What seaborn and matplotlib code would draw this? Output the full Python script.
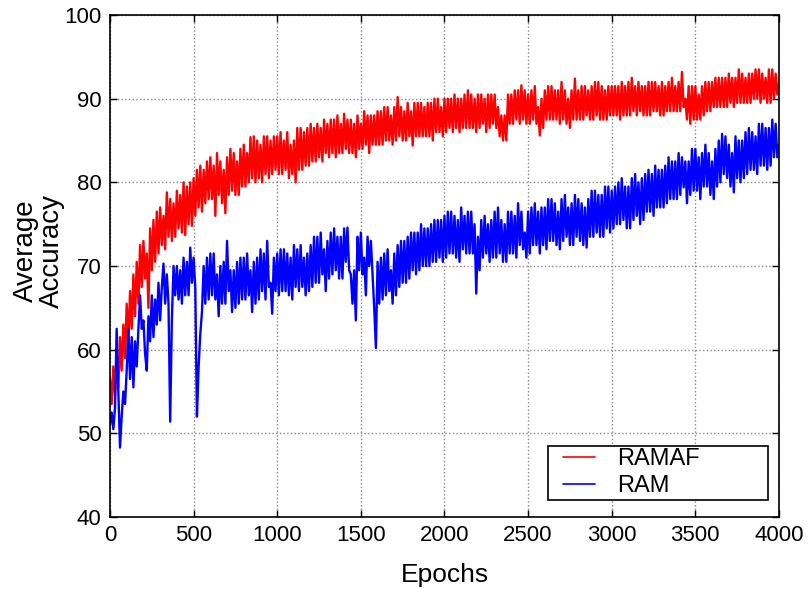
import numpy as np
import pandas as pd
import matplotlib
matplotlib.use("Agg")
import matplotlib.pyplot as plt
import seaborn as sns
from matplotlib.lines import Line2D
from matplotlib.legend_handler import HandlerLine2D

step = 10
ramaf = [
    56.5, 53.5, 58.0, 54.5, 59.5, 55.5, 61.5, 57.5, 63.0, 59.0,
    65.5, 60.5, 67.0, 62.5, 69.0, 64.0, 70.5, 65.5, 72.5, 67.5,
    73.0, 68.5, 71.5, 65.0, 74.5, 69.5, 75.5, 70.5, 76.5, 71.5,
    77.0, 72.5, 76.0, 72.0, 78.8, 73.5, 78.0, 73.0, 77.5, 73.5,
    79.0, 74.5, 78.5, 74.0, 80.0, 73.7, 79.5, 75.0, 80.0, 74.8,
    80.5, 76.0, 81.5, 77.0, 82.0, 76.5, 81.5, 77.5, 82.5, 78.0,
    83.0, 78.0, 82.0, 76.0, 83.5, 78.5, 82.5, 77.5, 81.5, 76.3,
    83.0, 78.5, 84.0, 79.0, 83.5, 78.5, 82.5, 78.5, 84.0, 79.5,
    84.5, 79.5, 83.5, 80.0, 85.4, 80.5, 85.5, 80.0, 85.0, 80.5,
    84.5, 80.0, 85.5, 81.0, 85.5, 80.5, 85.0, 81.0, 85.5, 81.5,
    85.5, 81.0, 86.0, 81.0, 85.0, 81.5, 86.0, 80.5, 84.5, 81.0,
    85.0, 80.0, 86.5, 81.5, 86.5, 81.5, 86.0, 82.0, 86.5, 82.0,
    87.0, 82.5, 86.5, 82.5, 87.0, 83.0, 86.5, 82.5, 87.5, 83.5,
    87.0, 83.0, 87.5, 83.5, 87.5, 83.0, 88.0, 83.5, 87.0, 83.5,
    88.2, 84.0, 87.5, 83.5, 87.5, 83.5, 87.0, 83.0, 88.0, 84.0,
    87.0, 84.0, 88.5, 84.5, 88.0, 83.5, 88.0, 84.5, 88.0, 84.5,
    88.5, 84.5, 88.5, 84.5, 89.0, 85.0, 89.0, 85.0, 88.0, 84.5,
    89.0, 85.0, 90.2, 85.5, 89.0, 85.0, 88.5, 85.0, 89.5, 85.5,
    88.5, 84.4, 89.5, 85.5, 89.5, 85.5, 89.5, 85.5, 89.0, 85.5,
    89.5, 85.5, 89.5, 85.0, 90.0, 86.0, 90.0, 86.0, 89.0, 85.5,
    90.0, 86.0, 90.0, 86.5, 90.0, 86.0, 90.5, 86.5, 90.0, 86.0,
    90.0, 86.5, 90.5, 86.5, 91.0, 86.5, 90.5, 86.5, 90.0, 86.0,
    90.5, 86.5, 90.5, 87.0, 90.0, 86.0, 90.5, 86.5, 90.5, 87.0,
    90.5, 86.5, 89.0, 85.5, 88.0, 85.0, 88.0, 85.0, 90.5, 87.0,
    90.5, 87.0, 91.0, 87.5, 91.0, 87.0, 91.6, 87.5, 91.0, 87.0,
    90.5, 87.0, 91.0, 87.5, 91.5, 87.0, 89.0, 85.6, 90.0, 86.5,
    91.0, 87.5, 91.5, 87.5, 91.5, 87.5, 91.0, 87.5, 91.0, 87.0,
    92.0, 87.5, 91.0, 87.0, 90.0, 86.5, 91.0, 87.5, 92.4, 87.5,
    91.0, 87.5, 91.5, 87.5, 91.5, 88.0, 91.0, 87.5, 91.5, 87.5,
    92.0, 88.0, 92.0, 87.5, 91.5, 87.5, 91.0, 87.5, 91.5, 88.0,
    91.5, 88.0, 91.5, 88.0, 91.5, 87.5, 92.0, 88.0, 91.5, 88.0,
    92.0, 88.0, 92.5, 88.5, 91.5, 88.0, 92.0, 88.5, 91.5, 88.0,
    91.5, 88.0, 92.0, 88.0, 92.0, 88.5, 92.0, 88.5, 91.5, 88.0,
    92.0, 88.0, 91.5, 88.5, 92.0, 88.5, 92.5, 88.5, 91.5, 88.5,
    92.0, 88.5, 93.2, 89.0, 90.0, 87.5, 91.5, 87.0, 91.5, 87.5,
    91.5, 87.5, 90.5, 87.5, 91.5, 88.0, 92.0, 88.5, 92.0, 88.5,
    92.0, 89.0, 92.5, 89.0, 92.5, 89.0, 92.5, 89.0, 92.5, 89.0,
    93.0, 89.5, 92.5, 89.0, 92.5, 89.5, 93.5, 89.5, 93.0, 89.5,
    92.5, 89.5, 93.0, 89.5, 93.0, 90.0, 93.5, 90.0, 93.5, 89.5,
    93.0, 90.0, 92.5, 89.5, 93.5, 89.5, 93.5, 90.0, 93.0, 90.5,
    92.0,
]
ram = [
    51.0, 52.5, 50.5, 53.0, 62.5, 55.0, 48.3, 52.0, 55.0, 53.5,
    57.5, 62.5, 56.5, 61.5, 55.5, 61.0, 58.0, 62.5, 66.5, 62.5,
    63.5, 59.5, 57.5, 64.0, 61.0, 66.5, 61.5, 66.0, 63.0, 68.0,
    63.5, 67.5, 70.3, 65.5, 69.0, 65.5, 51.4, 63.5, 70.0, 66.5,
    70.0, 66.0, 69.5, 65.5, 71.0, 66.5, 70.5, 66.5, 72.2, 68.0,
    71.0, 67.5, 52.0, 58.0, 61.9, 64.5, 70.0, 65.5, 71.0, 66.0,
    71.5, 66.5, 71.5, 66.0, 69.0, 64.0, 70.0, 65.5, 70.5, 65.5,
    73.0, 67.0, 69.5, 64.5, 69.5, 65.0, 70.5, 65.5, 71.0, 66.0,
    71.0, 66.0, 71.5, 66.5, 69.5, 64.5, 70.5, 65.5, 71.0, 66.0,
    72.0, 67.0, 71.5, 66.0, 73.0, 67.5, 68.0, 64.3, 71.0, 67.0,
    71.5, 66.5, 72.0, 67.0, 72.0, 67.0, 71.5, 66.5, 71.0, 66.0,
    72.5, 67.5, 72.0, 67.0, 72.5, 67.5, 71.0, 66.5, 71.5, 67.0,
    72.5, 67.5, 73.5, 68.0, 73.5, 68.0, 74.0, 69.0, 72.0, 67.0,
    73.0, 68.5, 74.0, 69.0, 74.5, 69.5, 73.5, 68.5, 73.5, 68.5,
    74.5, 70.5, 74.6, 69.5, 69.0, 65.5, 69.5, 63.5, 73.5, 69.5,
    74.0, 69.0, 71.0, 66.5, 73.5, 70.0, 73.0, 69.0, 65.0, 60.2,
    70.5, 65.5, 71.0, 66.0, 71.5, 66.5, 72.0, 67.0, 69.5, 65.5,
    71.5, 66.5, 72.5, 67.5, 73.0, 68.0, 73.0, 68.0, 73.5, 68.5,
    74.0, 69.5, 74.0, 69.0, 74.0, 69.5, 75.0, 70.0, 74.5, 70.0,
    74.5, 70.0, 75.0, 70.5, 75.5, 70.5, 75.5, 71.0, 75.5, 70.5,
    76.0, 71.0, 76.5, 71.5, 76.5, 71.5, 76.0, 71.0, 75.5, 70.5,
    77.0, 72.0, 76.0, 71.5, 76.5, 71.5, 76.5, 71.5, 75.0, 66.7,
    73.5, 69.5, 75.5, 71.0, 76.0, 71.5, 75.0, 70.5, 75.5, 71.0,
    76.5, 71.0, 77.0, 71.5, 75.5, 70.5, 75.0, 70.5, 76.5, 71.5,
    76.5, 71.5, 76.0, 71.0, 77.5, 72.5, 76.5, 72.0, 74.0, 71.0,
    76.5, 71.5, 77.0, 72.5, 77.5, 72.5, 76.5, 71.5, 77.0, 72.5,
    77.0, 72.0, 78.0, 73.0, 78.0, 73.0, 77.5, 72.5, 76.5, 72.0,
    78.0, 73.0, 78.5, 73.5, 77.0, 72.5, 77.5, 72.5, 78.5, 73.5,
    78.0, 73.0, 77.5, 72.5, 77.0, 72.2, 78.0, 73.5, 79.0, 73.5,
    79.0, 74.0, 78.5, 73.5, 78.5, 73.5, 79.5, 74.5, 79.5, 74.0,
    79.0, 74.5, 79.5, 75.0, 80.0, 75.0, 80.5, 75.5, 79.5, 74.5,
    79.5, 74.5, 80.5, 75.5, 81.0, 76.0, 80.0, 75.0, 80.5, 75.5,
    81.0, 76.5, 81.5, 76.5, 81.0, 76.0, 82.0, 77.0, 81.5, 77.0,
    81.5, 77.0, 82.0, 77.5, 83.0, 78.0, 82.5, 78.0, 82.5, 78.0,
    83.5, 78.5, 83.0, 79.4, 82.5, 77.5, 82.5, 78.5, 84.0, 79.0,
    84.0, 79.0, 83.0, 78.0, 83.5, 79.5, 84.5, 79.5, 83.5, 78.5,
    82.5, 78.0, 84.0, 79.5, 85.0, 80.0, 85.8, 81.0, 85.5, 80.5,
    84.5, 79.5, 83.5, 78.8, 85.5, 80.5, 85.0, 80.0, 85.0, 80.5,
    86.0, 81.0, 86.5, 81.5, 86.0, 81.5, 85.5, 81.0, 87.0, 82.0,
    87.0, 82.0, 86.5, 81.5, 86.5, 82.0, 87.5, 83.0, 87.0, 83.0,
    84.5,
]
series_names = ["RAMAF", "RAM"]
x_ticks = [0, 500, 1000, 1500, 2000, 2500, 3000, 3500, 4000]
y_ticks = [40, 50, 60, 70, 80, 90, 100]

df = pd.concat([
    pd.DataFrame({"Epochs": np.arange(len(ramaf)) * step, "Accuracy": ramaf, "Model": series_names[0]}),
    pd.DataFrame({"Epochs": np.arange(len(ram)) * step, "Accuracy": ram, "Model": series_names[1]}),
])

sns.set_style("ticks")
plt.rcParams["font.family"] = ["Liberation Sans", "DejaVu Sans"]
for k in ["text.color", "axes.labelcolor", "xtick.color", "ytick.color"]:
    plt.rcParams[k] = "black"

fig = plt.figure(figsize=(8.11, 5.89), dpi=100)
ax = fig.add_axes([0.1356, 0.1222, 0.8249, 0.8523])
sns.lineplot(data=df, x="Epochs", y="Accuracy", hue="Model",
             palette={"RAMAF": "#ff0000", "RAM": "#0000ff"},
             linewidth=1.7, ax=ax, estimator=None, sort=False)

ax.set_xlim(0, 4000)
ax.set_ylim(40, 100)
ax.set_xticks(x_ticks)
ax.set_yticks(y_ticks)
ax.tick_params(direction="in", top=True, right=True, labelsize=16, length=5, width=1,
               colors="black", pad=6)
ax.grid(True, linestyle=":", color="#888888", linewidth=1)
for s in ax.spines.values():
    s.set_color("black")
    s.set_linewidth(1.2)
ax.set_xlabel("Epochs", fontsize=19, labelpad=12)
ax.set_ylabel("Average\nAccuracy", fontsize=20, linespacing=1.0)
ax.yaxis.set_label_coords(-0.068, 0.53)

leg = ax.legend(loc="lower left", fontsize=17, frameon=True, fancybox=False,
                edgecolor="black", framealpha=1, borderpad=0.12, labelspacing=0.2,
                bbox_to_anchor=(0.6547, 0.034, 0.3289, 0.11), mode="expand",
                handlelength=1.87, handletextpad=0.93, borderaxespad=0,
                handler_map={Line2D: HandlerLine2D(xpad=0.515)})
leg.get_frame().set_linewidth(1.2)
for line in leg.get_lines():
    line.set_linewidth(1.2)

fig.savefig("out.png", dpi=100)
